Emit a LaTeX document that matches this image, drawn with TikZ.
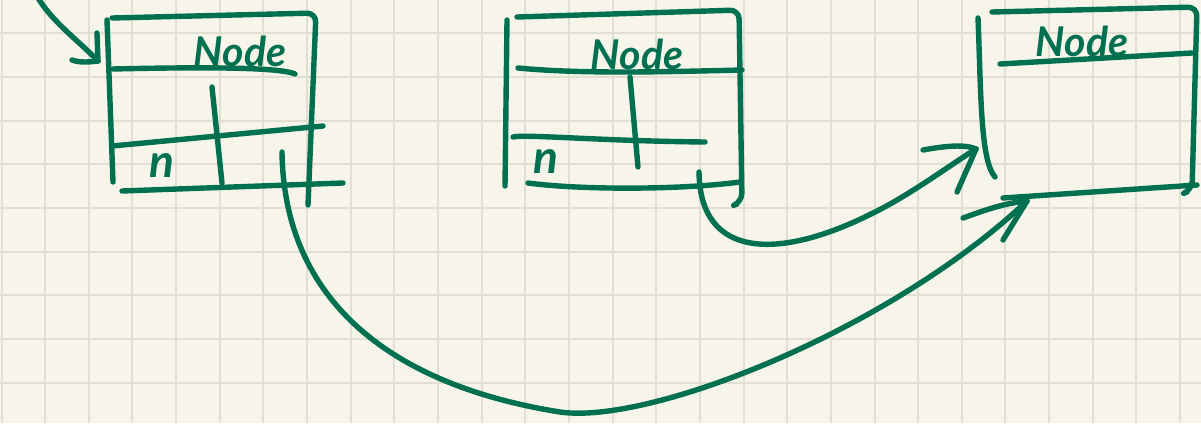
\documentclass[tikz,border=0pt]{standalone}
\usepackage{fontspec}
\newfontfamily\hand{Lato}
\definecolor{ink}{RGB}{0,112,80}
\definecolor{paper}{RGB}{247,245,234}
\definecolor{gridline}{RGB}{225,223,210}
\begin{document}
\begin{tikzpicture}[x=1pt,y=-1pt,
  pen/.style={draw=ink,line width=5.4pt,line cap=round,line join=round},
  title/.style={text=ink,font=\hand\bfseries\itshape\fontsize{41}{41}\selectfont,inner sep=0pt,anchor=base},
  field/.style={text=ink,font=\hand\bfseries\itshape\fontsize{46}{46}\selectfont,inner sep=0pt,anchor=base}]
% paper and squared grid
\fill[paper] (0,0) rectangle (1201,423);
\useasboundingbox (0,0) rectangle (1201,423);
\foreach \i in {0,...,27} \draw[gridline,line width=2pt] ({1.5+43.65*\i},0) -- ++(0,423);
\foreach \j in {0,...,9} \draw[gridline,line width=2pt] (0,{-10.35+43.65*\j}) -- ++(1201,0);

% ---------- first node ----------
\draw[pen] (107,20) -- (113,182);
\draw[pen,rounded corners=9pt] (112,18) -- (316,13) -- (308,205);
\draw[pen] (113,69) .. controls (200,67) and (280,67) .. (295,74);
\draw[pen] (212,87) -- (222,183);
\draw[pen] (112,146) -- (323,126);
\draw[pen] (122,191) -- (343,183);
\node[title] (nodeA) at (240,66) {Node};
\node[field] (nA) at (162,177) {n};

% ---------- second node ----------
\draw[pen] (507,20) -- (505,186);
\draw[pen,rounded corners=9pt] (517,17) -- (739,10) -- (742,202) -- (737,204);
\draw[pen] (518,68) .. controls (580,74) and (660,72) .. (742,70);
\draw[pen] (630,77) -- (638,167);
\draw[pen] (513,137) .. controls (525,134) and (600,141) .. (705,142);
\draw[pen] (528,183) .. controls (580,190) and (680,190) .. (740,182);
\node[title] (nodeB) at (637,69) {Node};
\node[field] (nB) at (546,173) {n};

% ---------- third node ----------
\draw[pen] (978,18) .. controls (981,90) and (980,160) .. (995,177);
\draw[pen,rounded corners=9pt] (992,12) -- (1197,7) -- (1192,190) -- (1187,192);
\draw[pen] (1000,64) -- (1192,53);
\draw[pen] (1003,198) -- (1197,185);
\node[title] (nodeC) at (1082,56) {Node};

% ---------- pointers ----------
\coordinate (head) at (37,-4);
\coordinate (headTip) at (98,61);
\draw[pen] (head) .. controls (50,20) and (80,42) .. (headTip);
\draw[pen] (97,33) -- (headTip);
\draw[pen] (72,60) .. controls (80,63) and (90,62) .. (headTip);

\coordinate (nextA) at (282,152);
\coordinate (lowA) at (560,412);
\coordinate (tipA) at (1027,201);
\draw[pen] (nextA) .. controls (284,300) and (390,385) .. (lowA)
                   .. controls (650,425) and (890,330) .. (tipA);
\draw[pen] (963,218) .. controls (985,210) and (1005,203) .. (tipA);
\draw[pen] (1003,240) -- (tipA);

\coordinate (nextB) at (699,172);
\coordinate (midB) at (873,213);
\coordinate (tipB) at (976,149);
\draw[pen] (nextB) .. controls (700,260) and (780,260) .. (midB)
                   .. controls (910,195) and (950,165) .. (tipB);
\draw[pen] (923,150) .. controls (945,146) and (965,144) .. (tipB);
\draw[pen] (957,192) -- (tipB);
\end{tikzpicture}
\end{document}
